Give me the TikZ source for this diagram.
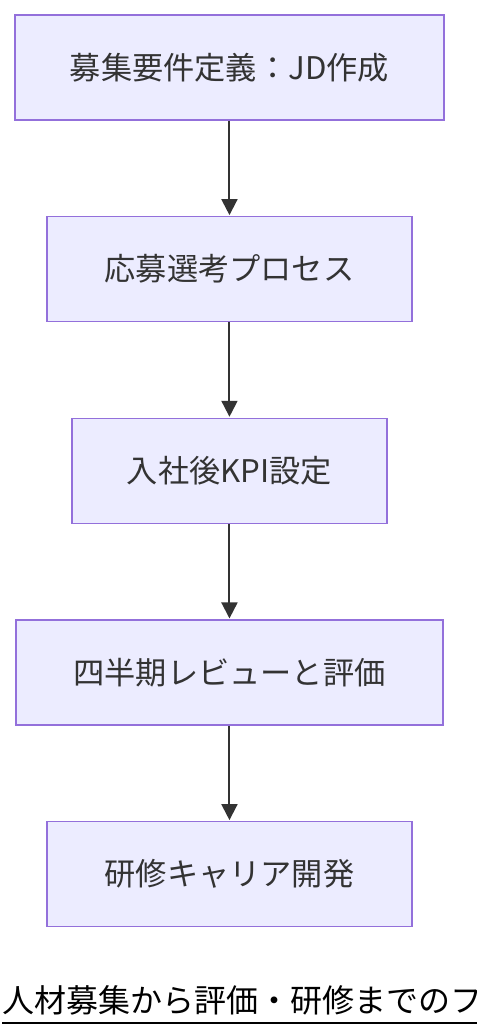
\documentclass[tikz,border=0pt]{standalone}
\usepackage{fontspec}
\setmainfont{Noto Sans CJK JP}
\usepackage{tikz}
\usetikzlibrary{arrows.meta,positioning}
\definecolor{boxfill}{HTML}{ECECFF}
\definecolor{boxline}{HTML}{9370DB}
\definecolor{txtgray}{HTML}{333333}
\tikzstyle{stage}=[rectangle,draw=boxline,fill=boxfill,line width=1.1pt,
  text=txtgray,font=\fontsize{23.4pt}{28pt}\selectfont,align=center,
  inner sep=0pt,minimum height=78.75pt]

\begin{document}
\begin{tikzpicture}[>={Triangle[length=12pt,width=12pt]}]
    \tikzstyle{flow}=[->,draw=txtgray,line width=1.5pt,shorten >=0.6pt]
    \tikzstyle{title}=[font=\fontsize{24pt}{28pt}\selectfont,inner sep=0pt,anchor=base west]

    \useasboundingbox (0,0) rectangle (357pt,-777pt);

    \node[stage,minimum width=321.75pt](req) at (172.1pt,-50.6pt){募集要件定義：JD作成};
    \node[stage,minimum width=273.75pt](select)[below=71.4pt of req]{応募選考プロセス};
    \node[stage,minimum width=236.25pt](kpi)[below=71.4pt of select]{入社後KPI設定};
    \node[stage,minimum width=320.25pt](review)[below=71.4pt of kpi]{四半期レビューと評価};
    \node[stage,minimum width=273.75pt](career)[below=71.4pt of review]{研修キャリア開発};

    \draw[flow] (req) -- (select);
    \draw[flow] (select) -- (kpi);
    \draw[flow] (kpi) -- (review);
    \draw[flow] (review) -- (career);

    % caption below the flow, cut at the right edge
    \node[title](cap) at (1.5pt,-759pt){人材募集から評価・研修までのフロー};
    \coordinate (ul) at ([yshift=-8pt]cap.base west);
    \draw[line width=1.5pt] (ul) -- (ul -| cap.east);
\end{tikzpicture}
\end{document}
